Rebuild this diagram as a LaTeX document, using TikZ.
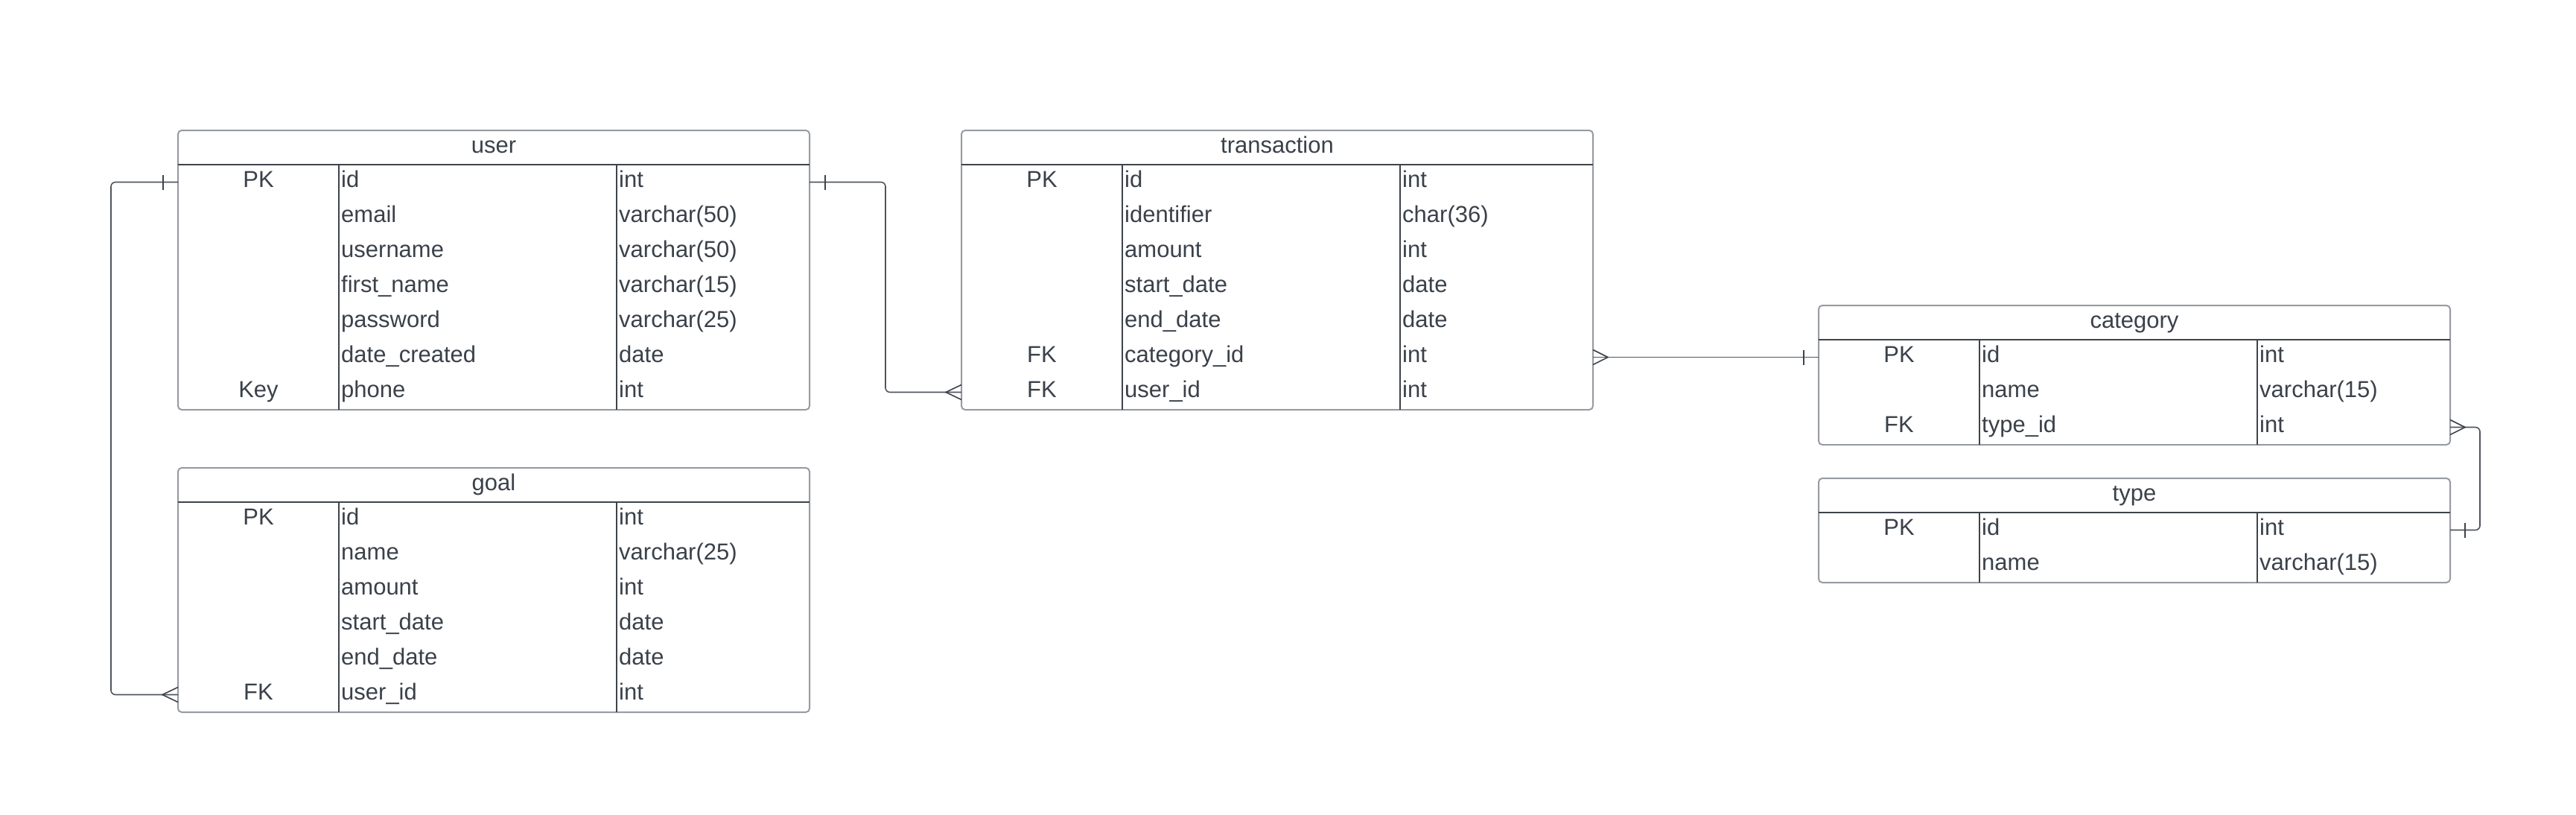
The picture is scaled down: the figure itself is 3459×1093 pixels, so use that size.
\documentclass[tikz,border=0pt]{standalone}
\usepackage{fontspec}
\setmainfont{Liberation Sans}
\usetikzlibrary{calc}
\definecolor{boxgray}{HTML}{979BA2}
\definecolor{innerc}{HTML}{3D434B}
\definecolor{txt}{HTML}{3A414A}
\definecolor{conncol}{HTML}{4F555D}
\tikzset{
  tablebox/.style={draw=boxgray, line width=2pt, rounded corners=5pt, minimum width=848pt, inner sep=0pt, outer sep=0pt, fill=white},
  rowbox/.style={minimum width=848pt, minimum height=47pt, inner sep=0pt, outer sep=0pt},
  titletxt/.style={anchor=base, inner sep=0pt, text=txt},
  keytxt/.style={anchor=base, inner sep=0pt, text=txt, yshift=-7pt},
  fieldtxt/.style={anchor=base west, inner sep=0pt, text=txt, yshift=-7pt},
  innerline/.style={draw=innerc, line width=1.5pt},
  conn/.style={draw=conncol, line width=1.6pt, rounded corners=6pt},
  crowline/.style={draw=innerc, line width=1.6pt},
}
\newcommand\ertable[6]{%
  \pgfmathsetmacro\tabh{46+47*#5}
  \node[tablebox, minimum height=\tabh pt, anchor=north west] (#1) at (#2,#3) {};
  \node[titletxt] (#1-title) at ($(#1.north)+(0,30)$) {#4};
  \draw[innerline] ($(#1.north west)+(0,46)$) -- ($(#1.north east)+(0,46)$);
  \draw[innerline] ($(#1.north west)+(216,46)$) -- ($(#1.south west)+(216,0)$);
  \draw[innerline] ($(#1.north west)+(589,46)$) -- ($(#1.south west)+(589,0)$);
  \foreach \colk/\colf/\colt [count=\i] in {#6} {
    \node[rowbox, anchor=north west] (#1-r\i) at ($(#1.north west)+(0,{46+47*(\i-1)})$) {};
    \node[keytxt] at ($(#1-r\i.west)+(108,0)$) {\colk};
    \node[fieldtxt] at ($(#1-r\i.west)+(219,0)$) {\colf};
    \node[fieldtxt] at ($(#1-r\i.west)+(592,0)$) {\colt};
  }
}
\begin{document}
\begin{tikzpicture}[x=1pt, y=-1pt]
\fontsize{31}{37}\selectfont
\fill[white] (0,0) rectangle (3459,1093);
\useasboundingbox (0,0) rectangle (3459,1093);

\ertable{user}{239}{175}{user}{7}{PK/id/int, /email/varchar(50), /username/varchar(50), /first\_name/varchar(15), /password/varchar(25), /date\_created/date, Key/phone/int}
\ertable{trans}{1291}{175}{transaction}{7}{PK/id/int, /identifier/char(36), /amount/int, /start\_date/date, /end\_date/date, FK/category\_id/int, FK/user\_id/int}
\ertable{goal}{239}{628}{goal}{6}{PK/id/int, /name/varchar(25), /amount/int, /start\_date/date, /end\_date/date, FK/user\_id/int}
\ertable{cat}{2442}{410}{category}{3}{PK/id/int, /name/varchar(15), FK/type\_id/int}
\ertable{type}{2442}{642}{type}{2}{PK/id/int, /name/varchar(15)}

% user -> transaction
\draw[conn] (user-r1.east) -- ++(102,0) |- (trans-r7.west);
\draw[crowline] ($(user-r1.east)+(21,-10)$) -- ($(user-r1.east)+(21,10)$);
\draw[crowline] ($(trans-r7.west)+(0,-10)$) -- ($(trans-r7.west)+(-21,0)$) -- ($(trans-r7.west)+(0,10)$);

% transaction -> category
\draw[conn] (trans-r6.east) -- (cat-r1.west);
\draw[crowline] ($(trans-r6.east)+(0,-10)$) -- ($(trans-r6.east)+(20,0)$) -- ($(trans-r6.east)+(0,10)$);
\draw[crowline] ($(cat-r1.west)+(-20,-10)$) -- ($(cat-r1.west)+(-20,10)$);

% category -> type
\draw[conn] (cat-r3.east) -- ++(40,0) |- (type-r1.east);
\draw[crowline] ($(cat-r3.east)+(0,-10)$) -- ($(cat-r3.east)+(20,0)$) -- ($(cat-r3.east)+(0,10)$);
\draw[crowline] ($(type-r1.east)+(20,-10)$) -- ($(type-r1.east)+(20,10)$);

% user -> goal
\draw[conn] (user-r1.west) -- ++(-90,0) |- (goal-r6.west);
\draw[crowline] ($(user-r1.west)+(-20,-10)$) -- ($(user-r1.west)+(-20,10)$);
\draw[crowline] ($(goal-r6.west)+(0,-10)$) -- ($(goal-r6.west)+(-21,0)$) -- ($(goal-r6.west)+(0,10)$);
\end{tikzpicture}
\end{document}
